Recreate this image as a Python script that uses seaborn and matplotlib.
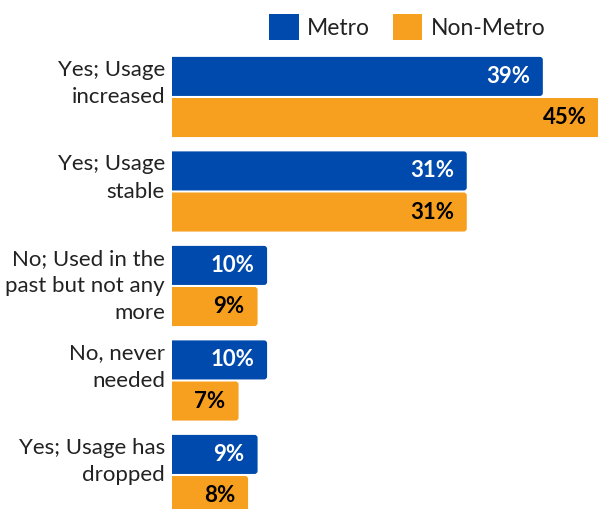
import matplotlib
matplotlib.use("Agg")
import matplotlib.pyplot as plt
from matplotlib.patches import FancyBboxPatch
import seaborn as sns
import pandas as pd

# Survey responses and shares (%) by area type
categories = [
    "Yes; Usage\nincreased",
    "Yes; Usage\nstable",
    "No; Used in the\npast but not any\nmore",
    "No, never\nneeded",
    "Yes; Usage has\ndropped",
]
metro = [39, 31, 10, 10, 9]
non_metro = [45, 31, 9, 7, 8]
series = ["Metro", "Non-Metro"]
colors = {"Metro": "#004AAD", "Non-Metro": "#F79F1F"}
label_colors = {"Metro": "white", "Non-Metro": "black"}

df = pd.DataFrame({
    "category": categories * 2,
    "value": metro + non_metro,
    "area": ["Metro"] * len(categories) + ["Non-Metro"] * len(categories),
})

sns.set_theme(style="white")
plt.rcParams["font.family"] = ["Lato", "DejaVu Sans"]
text_color = "#222222"

fig = plt.figure(figsize=(5.98, 5.09), dpi=100)
W, H = 598, 509
ax = fig.add_axes([172 / W, 0, 1 - 172 / W, (H - 50) / H])

sns.barplot(data=df, y="category", x="value", hue="area", order=categories,
            hue_order=series, palette=colors, orient="h", width=0.87,
            gap=0.05, legend=False, ax=ax, saturation=1)

xmax = 44.8
ymin, ymax = 4.36, -0.497
ax.set_xlim(0, xmax)
ax.set_ylim(ymin, ymax)

# data units per pixel on each axis, for round corners in screen space
x_per_px = xmax / (W - 172)
y_per_px = (ymin - ymax) / (H - 50)
radius = 3 * x_per_px

for container, name in zip(ax.containers, series):
    for bar in container:
        x0, y0 = bar.get_x(), bar.get_y()
        w, h = bar.get_width(), bar.get_height()
        fb = FancyBboxPatch((x0 - 1, y0), w + 1, h,
                            boxstyle=f"round,pad=0,rounding_size={radius}",
                            mutation_aspect=y_per_px / x_per_px,
                            facecolor=colors[name], edgecolor="none")
        ax.add_patch(fb)
        bar.set_visible(False)
        ax.text(x0 + w - 13 * x_per_px, y0 + h / 2, f"{int(round(w))}%",
                ha="right", va="center", fontsize=16, fontweight="bold",
                color=label_colors[name])

# Category labels, hung from the top of each group
ticks = ax.get_yticks()
ax.set_yticks(ticks, [""] * len(ticks))
for y, label in zip(ticks, categories):
    ax.text(-7 * x_per_px, y - 37 * y_per_px, label, ha="right", va="top",
            multialignment="right", fontsize=16, color=text_color,
            linespacing=1.45, clip_on=False)

ax.set_xlabel("")
ax.set_ylabel("")
ax.set_xticks([])
ax.tick_params(axis="y", length=0)
for s in ax.spines.values():
    s.set_visible(False)

# Legend along the top
handles = [plt.Rectangle((0, 0), 1, 1, facecolor=colors[s], edgecolor="none") for s in series]
fig.legend(handles, series, loc="center", bbox_to_anchor=(407 / W, 1 - 27 / H),
           ncol=2, frameon=False, fontsize=16.5, handlelength=1.3, handleheight=1.35,
           handletextpad=0.35, columnspacing=1.0, labelcolor=text_color)

fig.savefig("out.png", dpi=100)
